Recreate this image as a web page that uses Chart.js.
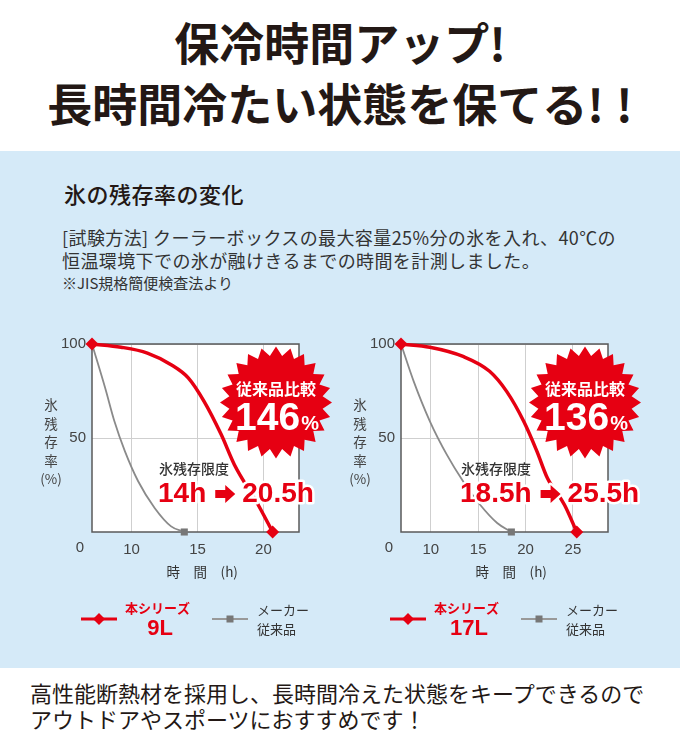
<!DOCTYPE html>
<html lang="ja">
<head>
<meta charset="utf-8">
<script src="https://cdn.jsdelivr.net/npm/chart.js@4.4.1/dist/chart.umd.min.js"></script>
<style>
  body { margin: 0; width: 680px; height: 744px; overflow: hidden; background: #fff;
         font-family: "Noto Sans CJK JP", sans-serif; color: #231815; position: relative; }
  .t { position: absolute; white-space: nowrap; }
  .head { left: 0; width: 680px; text-align: center; font-size: 45px; font-weight: bold; line-height: 50px; }
  .panel { position: absolute; left: 0; top: 151px; width: 680px; height: 517px; background: #d5eaf8; }
  canvas { position: absolute; top: 320px; }
</style>
</head>
<body>
<div class="t head" style="top:17px">保冷時間アップ!</div>
<div class="t head" style="top:78px;padding-left:6px">長時間冷たい状態を保てる<span style="letter-spacing:12px">!!</span></div>
<div class="panel"></div>
<div class="t" style="left:64px;top:178px;font-size:22px;font-weight:500;line-height:30px;letter-spacing:0.5px">氷の残存率の変化</div>
<div class="t" style="left:62px;top:224px;font-size:18px;line-height:26px;color:#333;letter-spacing:0.4px">[試験方法] クーラーボックスの最大容量25%分の氷を入れ、40℃の</div>
<div class="t" style="left:62px;top:247px;font-size:18px;line-height:26px;color:#333;letter-spacing:0.4px">恒温環境下での氷が融けきるまでの時間を計測しました。</div>
<div class="t" style="left:62px;top:272px;font-size:15px;line-height:22px;color:#333">※JIS規格簡便検査法より</div>
<canvas id="chart9" width="340" height="320" style="left:0"></canvas>
<canvas id="chart17" width="340" height="320" style="left:309px"></canvas>
<div class="t" style="left:30px;top:679px;font-size:22px;line-height:26px">高性能断熱材を採用し、長時間冷えた状態をキープできるので</div>
<div class="t" style="left:30px;top:705px;font-size:22px;line-height:26px">アウトドアやスポーツにおすすめです！</div>

<script>
const yTicks = [50, 100];
const seriesNames = ["本シリーズ", "メーカー従来品"];

// 9L
const xTicks9 = [10, 15, 20];
const xRange9 = [7, 22.7];
const hontai9X = [7, 9.2, 11.2, 13.0, 14.3, 15.5, 16.8, 17.8, 19.6, 20.7];
const hontai9Y = [100, 98.3, 95.2, 89, 82, 69.5, 51.8, 35.8, 14.5, 0];
const maker9X = [7, 8.0, 8.7, 9.5, 10.5, 11.75, 13.0, 14.0];
const maker9Y = [100, 76.6, 58.9, 42.9, 27, 12.8, 3, 0];
const ratio9 = "146";
const limits9 = ["14h", "20.5h"];

// 17L
const xTicks17 = [10, 15, 20, 25];
const xRange17 = [6.85, 28.7];
const hontai17X = [6.85, 9.9, 13.4, 16.2, 18.0, 19.8, 21.2, 22.3, 24.1, 25.4];
const hontai17Y = [100, 98.3, 93.4, 85.5, 74.8, 58.9, 42.9, 28.7, 14.5, 0];
const maker17X = [6.85, 8.2, 9.9, 11.7, 13.4, 15.2, 17.0, 18.5];
const maker17Y = [100, 80, 58.9, 41, 27, 14.5, 4.8, 0];
const ratio17 = "136";
const limits17 = ["18.5h", "25.5h"];

const RED = "#e60012";
const GRAY = "#8a8a8a";
const NUM_FONT = "Liberation Sans";
const JP_FONT = '"Noto Sans CJK JP"';

function toPoints(xs, ys) {
  return xs.map((x, i) => ({ x: x, y: ys[i] }));
}

function starburst(ctx, cx, cy, rOut, rIn, n) {
  ctx.beginPath();
  for (let i = 0; i < n * 2; i++) {
    const r = i % 2 ? rIn : rOut;
    const a = -Math.PI / 2 + i * Math.PI / n;
    ctx.lineTo(cx + r * Math.cos(a), cy + r * Math.sin(a));
  }
  ctx.closePath();
  ctx.fill();
}

function arrowPath(ctx, x, y) {
  ctx.beginPath();
  ctx.moveTo(x, y - 4);
  ctx.lineTo(x + 10, y - 4);
  ctx.lineTo(x + 10, y - 9);
  ctx.lineTo(x + 20, y);
  ctx.lineTo(x + 10, y + 9);
  ctx.lineTo(x + 10, y + 4);
  ctx.lineTo(x, y + 4);
  ctx.closePath();
}

const decor = {
  id: "decor",
  beforeDraw(chart) {
    const { ctx, chartArea: a } = chart;
    ctx.save();
    ctx.fillStyle = "#fff";
    ctx.fillRect(a.left, a.top, a.width, a.height);
    ctx.restore();
  },
  beforeDatasetsDraw(chart) {
    const { ctx, chartArea: a } = chart;
    ctx.save();
    ctx.strokeStyle = "#5a5a5a";
    ctx.lineWidth = 1.5;
    ctx.strokeRect(a.left, a.top, a.width, a.height);
    ctx.restore();
  },
  afterDatasetsDraw(chart, args, opts) {
    const { ctx, chartArea: a } = chart;
    ctx.save();

    // origin label and stacked y title
    ctx.fillStyle = "#444";
    ctx.textAlign = "center";
    ctx.textBaseline = "middle";
    ctx.font = "15px " + NUM_FONT;
    ctx.fillText("0", a.left - 12, a.bottom + 16);
    ctx.font = "13.5px " + JP_FONT;
    ["氷", "残", "存", "率", "(%)"].forEach((c, i) => {
      ctx.fillText(c, 51, a.top + 61 + i * 18.5);
    });

    // starburst
    const bx = a.left + 184, by = a.top + 58.5;
    ctx.fillStyle = RED;
    starburst(ctx, bx, by, 56, 47, 24);
    ctx.fillStyle = "#fff";
    ctx.font = "bold 16px " + JP_FONT;
    ctx.fillText("従来品比較", bx, by - 14);
    ctx.textAlign = "left";
    ctx.textBaseline = "alphabetic";
    ctx.font = "bold 39px " + NUM_FONT;
    const wNum = ctx.measureText(opts.ratio).width;
    ctx.font = "bold 20px " + NUM_FONT;
    const wPct = ctx.measureText("%").width;
    let sx = bx - (wNum + wPct + 1) / 2 + 1;
    ctx.font = "bold 39px " + NUM_FONT;
    ctx.fillText(opts.ratio, sx, by + 27);
    ctx.font = "bold 20px " + NUM_FONT;
    ctx.fillText("%", sx + wNum + 1, by + 27);

    // limit annotation
    const lx = opts.limitX;
    ctx.fillStyle = "#333";
    ctx.textBaseline = "middle";
    ctx.font = "500 14px " + JP_FONT;
    ctx.fillText("氷残存限度", lx + 1, a.top + 125);
    const ly = a.top + 150;
    ctx.font = "bold 28px " + NUM_FONT;
    ctx.lineJoin = "round";
    ctx.lineWidth = 5;
    ctx.strokeStyle = "#fff";
    ctx.fillStyle = RED;
    const w1 = ctx.measureText(opts.limits[0]).width;
    const ax = lx + w1 + 9;
    const rx = ax + 27;
    ctx.strokeText(opts.limits[0], lx, ly);
    ctx.strokeText(opts.limits[1], rx, ly);
    arrowPath(ctx, ax, ly);
    ctx.stroke();
    ctx.fill();
    ctx.fillText(opts.limits[0], lx, ly);
    ctx.fillText(opts.limits[1], rx, ly);

    // legend
    const gy = 299;
    ctx.lineWidth = 3;
    ctx.strokeStyle = RED;
    ctx.beginPath(); ctx.moveTo(81, gy); ctx.lineTo(117, gy); ctx.stroke();
    ctx.fillStyle = RED;
    ctx.beginPath();
    ctx.moveTo(99, gy - 6); ctx.lineTo(105, gy); ctx.lineTo(99, gy + 6); ctx.lineTo(93, gy);
    ctx.closePath(); ctx.fill();
    ctx.font = "bold 13px " + JP_FONT;
    ctx.fillText(seriesNames[0], 125, 288);
    ctx.textAlign = "center";
    ctx.font = "bold 22px " + NUM_FONT;
    ctx.fillText(opts.size, 160, 309);

    ctx.lineWidth = 2;
    ctx.strokeStyle = "#999";
    ctx.beginPath(); ctx.moveTo(212, gy); ctx.lineTo(248, gy); ctx.stroke();
    ctx.fillStyle = "#777";
    ctx.fillRect(226.5, gy - 3.5, 7, 7);
    ctx.fillStyle = "#333";
    ctx.textAlign = "left";
    ctx.font = "13px " + JP_FONT;
    ctx.fillText("メーカー", 257, 290);
    ctx.fillText("従来品", 257, 309);
    ctx.restore();
  }
};

function makeChart(id, xRange, xTicks, hX, hY, mX, mY, extra) {
  new Chart(id, {
    type: "line",
    data: {
      datasets: [
        {
          label: seriesNames[0],
          data: toPoints(hX, hY),
          borderColor: RED,
          borderWidth: 3.5,
          cubicInterpolationMode: "monotone",
          pointStyle: "rectRot",
          pointRadius: hX.map((v, i) => (i === 0 || i === hX.length - 1 ? 6.5 : 0)),
          pointBackgroundColor: RED,
          pointBorderWidth: 0,
          clip: false
        },
        {
          label: seriesNames[1],
          data: toPoints(mX, mY),
          borderColor: GRAY,
          borderWidth: 1.8,
          cubicInterpolationMode: "monotone",
          pointStyle: "rect",
          pointRadius: mX.map((v, i) => (i === mX.length - 1 ? 5 : 0)),
          pointBackgroundColor: "#777",
          pointBorderWidth: 0,
          clip: false
        }
      ]
    },
    options: {
      responsive: false,
      animation: false,
      events: [],
      layout: { padding: { left: 0, top: 24, right: 41, bottom: 48 } },
      plugins: {
        legend: { display: false },
        tooltip: { enabled: false },
        decor: extra
      },
      scales: {
        x: {
          type: "linear",
          min: xRange[0],
          max: xRange[1],
          afterBuildTicks: (s) => { s.ticks = xTicks.map((v) => ({ value: v })); },
          afterFit: (s) => { s.height = 60; },
          grid: { color: "#cfcfcf", drawTicks: false },
          border: { display: false },
          ticks: { padding: 9, color: "#444", font: { size: 15, family: NUM_FONT } },
          title: {
            display: true,
            text: "　時　間　(h)",
            color: "#333",
            padding: { top: 0, bottom: 12 },
            font: { size: 13.5, family: "Noto Sans CJK JP" }
          }
        },
        y: {
          min: 0,
          max: 100,
          afterBuildTicks: (s) => { s.ticks = yTicks.map((v) => ({ value: v })); },
          afterFit: (s) => { s.width = 92; },
          grid: { color: "#cfcfcf", drawTicks: false },
          border: { display: false },
          ticks: { padding: 6, color: "#444", font: { size: 15, family: NUM_FONT } }
        }
      }
    },
    plugins: [decor]
  });
}

makeChart("chart9", xRange9, xTicks9, hontai9X, hontai9Y, maker9X, maker9Y,
  { ratio: ratio9, limits: limits9, limitX: 158, size: "9L" });
makeChart("chart17", xRange17, xTicks17, hontai17X, hontai17Y, maker17X, maker17Y,
  { ratio: ratio17, limits: limits17, limitX: 151, size: "17L" });
</script>
</body>
</html>
